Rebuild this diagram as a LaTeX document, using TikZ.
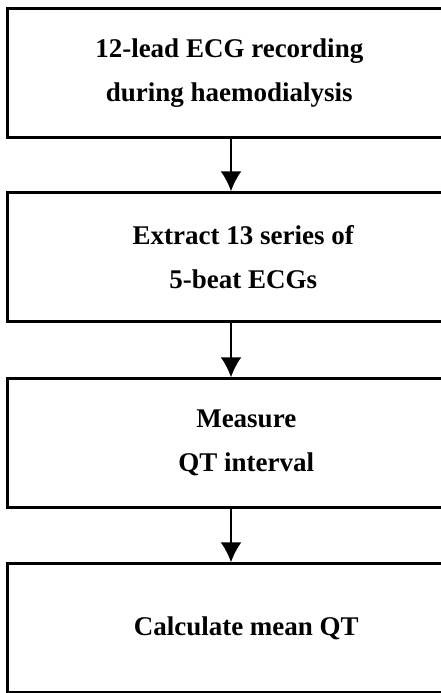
\documentclass[tikz,border=0pt]{standalone}
\usepackage{fontspec}
\setmainfont{Liberation Serif}
\usetikzlibrary{arrows.meta}
\tikzset{%
  >={Latex[length=20pt,width=21pt]}, % filled arrow heads
  x=1pt, y=-1pt,%
  stage/.style={draw, line width=2.5pt, anchor=west, inner sep=0pt,
    minimum height=129pt, align=center,
    font=\fontsize{27}{44}\selectfont\bfseries},%
  flow/.style={->, line width=2pt}%
}

\begin{document}
\begin{tikzpicture} % QT measurement steps
\useasboundingbox (0,0) rectangle (441,693);
\clip (0,0) rectangle (441,693);
\def\L{6} % left edge of the boxes
\coordinate (axis) at (231,0); % line of the arrows

\node[stage, minimum width=444pt] (record) at (\L,73)
  {12-lead ECG recording\\during haemodialysis};
\node[stage, minimum width=472pt] (extract) at (\L,257)
  {Extract 13 series of\\5-beat ECGs};
\node[stage, minimum width=478pt] (measure) at (\L,443)
  {Measure\\QT interval};
\node[stage, minimum width=478pt] (mean) at (\L,628)
  {Calculate mean QT};

\foreach \a/\b in {record/extract,extract/measure,measure/mean}
  \draw[flow] (\a.south -| axis) -- (\b.north -| axis);

\end{tikzpicture}
\end{document}
